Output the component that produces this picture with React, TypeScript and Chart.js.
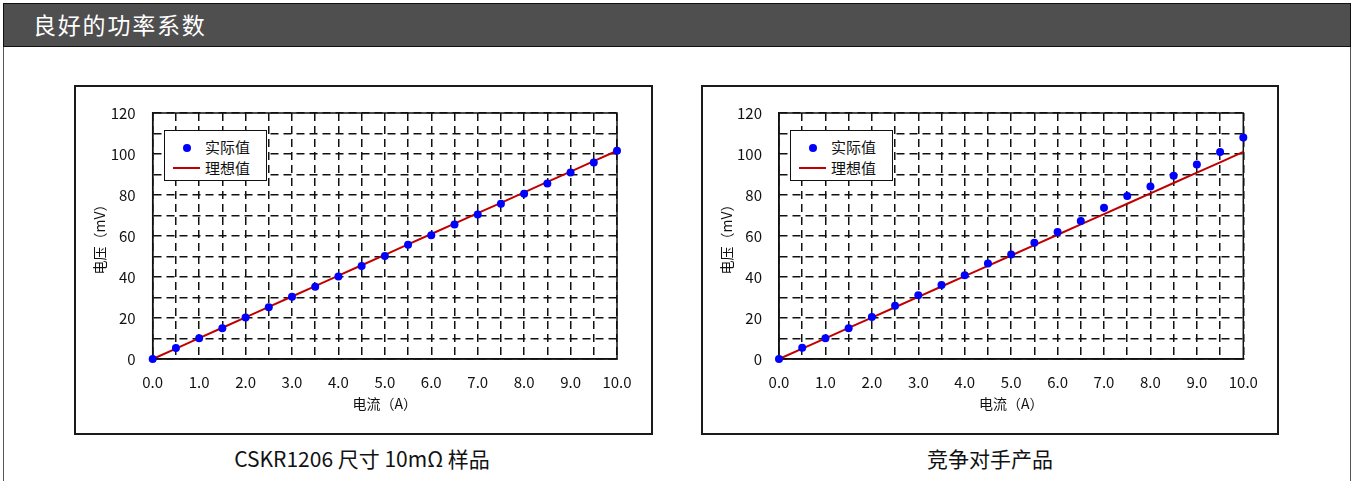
import React, { useEffect, useRef } from "react";
import { Chart, registerables } from "chart.js";

Chart.register(...registerables);

const FONT = '"Noto Sans CJK SC", "Noto Sans", sans-serif';

// ---- data ----
const currentA = [0, 0.5, 1, 1.5, 2, 2.5, 3, 3.5, 4, 4.5, 5, 5.5, 6, 6.5, 7, 7.5, 8, 8.5, 9, 9.5, 10];

const cskrActual = [0, 5.4, 10.1, 15.0, 20.2, 25.2, 30.4, 35.3, 40.2, 45.4, 50.3, 55.7, 60.4, 65.6, 70.5, 75.7, 80.6, 85.6, 91.0, 95.9, 101.6];
const cskrIdeal = [0, 5.08, 10.16, 15.24, 20.32, 25.4, 30.48, 35.56, 40.64, 45.72, 50.8, 55.88, 60.96, 66.04, 71.12, 76.2, 81.28, 86.36, 91.44, 96.52, 101.6];

const rivalActual = [0, 5.5, 10.1, 15.0, 20.5, 26.0, 31.1, 36.1, 40.9, 46.6, 51.0, 56.7, 62.0, 67.3, 73.8, 79.5, 84.2, 89.4, 94.9, 101.0, 108.1];
const rivalIdeal = [0, 5.05, 10.1, 15.15, 20.2, 25.25, 30.3, 35.35, 40.4, 45.45, 50.5, 55.55, 60.6, 65.65, 70.7, 75.75, 80.8, 85.85, 90.9, 95.95, 101.0];

const xTickLabels = ["0.0", "1.0", "2.0", "3.0", "4.0", "5.0", "6.0", "7.0", "8.0", "9.0", "10.0"];
const yTickLabels = ["0", "20", "40", "60", "80", "100", "120"];

const headerTitle = "良好的功率系数";
const seriesActualName = "实际值";
const seriesIdealName = "理想值";
const xTitle = "电流（A）";
const yTitle = "电压（mV）";
const leftCaption = "CSKR1206 尺寸 10mΩ 样品";
const rightCaption = "竞争对手产品";

const framePlugin = {
  id: "plotFrame",
  beforeDatasetsDraw(chart: any) {
    const { ctx, chartArea } = chart;
    ctx.save();
    ctx.strokeStyle = "#111";
    ctx.lineWidth = 1.5;
    ctx.strokeRect(chartArea.left, chartArea.top, chartArea.right - chartArea.left, chartArea.bottom - chartArea.top);
    ctx.restore();
  },
};

type BoxProps = {
  left: number;
  top: number;
  width: number;
  height: number;
  axisWidth: number;
  rightPad: number;
  actual: number[];
  ideal: number[];
};

function ChartBox({ left, top, width, height, axisWidth, rightPad, actual, ideal }: BoxProps) {
  const ref = useRef<HTMLCanvasElement | null>(null);
  useEffect(() => {
    if (!ref.current) return;
    const chart = new Chart(ref.current, {
      type: "scatter",
      data: {
        datasets: [
          {
            label: seriesActualName,
            data: currentA.map((x, i) => ({ x, y: actual[i] })),
            showLine: false,
            pointRadius: 4,
            pointBackgroundColor: "#0000ff",
            pointBorderWidth: 0,
            pointHoverRadius: 4,
            clip: false,
          } as any,
          {
            label: seriesIdealName,
            data: currentA.map((x, i) => ({ x, y: ideal[i] })),
            showLine: true,
            borderColor: "#c00000",
            borderWidth: 2,
            pointRadius: 0,
            pointHoverRadius: 0,
            clip: false,
          } as any,
        ],
      },
      options: {
        responsive: false,
        animation: false,
        devicePixelRatio: 1,
        events: [],
        layout: { padding: { left: 0, right: rightPad, top: 27, bottom: 0 } },
        plugins: { legend: { display: false }, tooltip: { enabled: false } },
        scales: {
          x: {
            type: "linear",
            min: 0,
            max: 10,
            afterFit: (s: any) => {
              s.height = 75;
              s.paddingLeft = 0;
              s.paddingRight = 0;
            },
            ticks: {
              stepSize: 0.5,
              autoSkip: false,
              maxRotation: 0,
              padding: 14,
              color: "#111",
              font: { family: FONT, size: 15 },
              callback: (v: any) => {
                const s = Number(v).toFixed(1);
                return xTickLabels.includes(s) ? s : "";
              },
            },
            grid: { color: "#111", lineWidth: 1.5, drawTicks: false, borderDash: [8, 5] } as any,
            border: { display: true, color: "#111", width: 1.5, dash: [8, 5] } as any,
            title: {
              display: true,
              text: xTitle,
              color: "#111",
              font: { family: FONT, size: 14 },
              padding: { top: 0, bottom: 21.6 },
            },
          },
          y: {
            type: "linear",
            min: 0,
            max: 120,
            afterFit: (s: any) => {
              s.width = axisWidth;
              s.paddingTop = 0;
              s.paddingBottom = 0;
            },
            ticks: {
              stepSize: 10,
              autoSkip: false,
              padding: 17,
              color: "#111",
              font: { family: FONT, size: 15 },
              callback: (v: any) => {
                const s = String(Math.round(Number(v)));
                return yTickLabels.includes(s) ? s : "";
              },
            },
            grid: { color: "#111", lineWidth: 1.5, drawTicks: false, borderDash: [8, 5] } as any,
            border: { display: true, color: "#111", width: 1.5, dash: [8, 5] } as any,
            title: {
              display: true,
              text: yTitle,
              color: "#111",
              font: { family: FONT, size: 14 },
              padding: { top: 16.6, bottom: 0 },
            },
          },
        },
      } as any,
      plugins: [framePlugin],
    });
    return () => chart.destroy();
  }, []);
  return (
    <canvas
      ref={ref}
      width={width}
      height={height}
      style={{ position: "absolute", left, top, width, height }}
    />
  );
}

function Legend({ left, top }: { left: number; top: number }) {
  const row: React.CSSProperties = {
    position: "absolute",
    left: 40,
    fontSize: 15,
    lineHeight: "18px",
    color: "#111",
    whiteSpace: "nowrap",
  };
  return (
    <div
      style={{
        position: "absolute",
        left,
        top,
        width: 103,
        height: 51,
        boxSizing: "border-box",
        border: "1.5px solid #111",
        background: "#fff",
        fontFamily: FONT,
      }}
    >
      <div style={{ position: "absolute", left: 18, top: 13, width: 8, height: 8, borderRadius: "50%", background: "#0000ff" }} />
      <div style={{ ...row, top: 7 }}>{seriesActualName}</div>
      <div style={{ position: "absolute", left: 7.5, top: 36, width: 27, height: 2, background: "#c00000" }} />
      <div style={{ ...row, top: 28 }}>{seriesIdealName}</div>
    </div>
  );
}

export default function App() {
  const box: React.CSSProperties = {
    position: "absolute",
    boxSizing: "border-box",
    border: "2px solid #1a1a1a",
  };
  const caption: React.CSSProperties = {
    position: "absolute",
    top: 444,
    height: 28,
    lineHeight: "28px",
    fontSize: 21,
    fontWeight: 400,
    color: "#111",
    textAlign: "center",
    fontFamily: FONT,
    whiteSpace: "nowrap",
  };
  return (
    <div
      style={{
        position: "fixed",
        left: 0,
        top: 0,
        width: 1355,
        height: 481,
        background: "#fff",
        overflow: "hidden",
        fontFamily: FONT,
      }}
    >
      <div
        style={{
          position: "absolute",
          left: 3,
          top: 3,
          width: 1348,
          height: 520,
          boxSizing: "border-box",
          border: "1.5px solid #555",
        }}
      />
      <div
        style={{
          position: "absolute",
          left: 3,
          top: 3,
          width: 1348,
          height: 44,
          boxSizing: "border-box",
          border: "1.5px solid #111",
          background: "#4f4f4f",
        }}
      >
        <div
          style={{
            position: "absolute",
            left: 29,
            top: 0,
            height: 41,
            lineHeight: "41px",
            fontSize: 23,
            fontWeight: 400,
            color: "#fff",
            letterSpacing: 1.8,
          }}
        >
          {headerTitle}
        </div>
      </div>

      <div style={{ ...box, left: 74, top: 85, width: 579, height: 350 }} />
      <div style={{ ...box, left: 701, top: 85, width: 578, height: 350 }} />

      <ChartBox left={75} top={86} width={578} height={348} axisWidth={77.7} rightPad={36} actual={cskrActual} ideal={cskrIdeal} />
      <ChartBox left={702} top={86} width={576} height={348} axisWidth={77} rightPad={34.7} actual={rivalActual} ideal={rivalIdeal} />

      <Legend left={164} top={130} />
      <Legend left={790} top={130} />

      <div style={{ ...caption, left: 212, width: 300 }}>{leftCaption}</div>
      <div style={{ ...caption, left: 840, width: 300 }}>{rightCaption}</div>
    </div>
  );
}
